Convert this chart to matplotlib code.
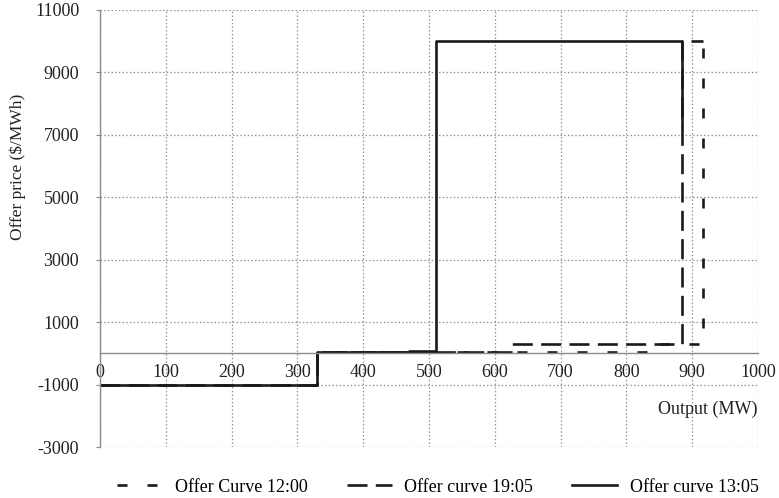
#!/usr/bin/env python3

import matplotlib.pyplot as plt
import numpy as np

plt.rcParams['font.family'] = ['Liberation Serif', 'DejaVu Serif']
plt.rcParams['lines.scale_dashes'] = False
plt.rcParams['axes.unicode_minus'] = False

# offer curves: output (MW) vs offer price ($/MWh), as step points
mw_1200 = [0, 330, 330, 510, 850, 850, 916, 916]
price_1200 = [-1000, -1000, 30, 30, 30, 300, 300, 10000]

mw_1905 = [0, 330, 330, 510, 626, 626, 885, 885, 916]
price_1905 = [-1000, -1000, 30, 30, 30, 300, 300, 10000, 10000]

mw_1305 = [0, 330, 330, 470, 470, 510, 510, 885, 885]
price_1305 = [-1000, -1000, 30, 30, 80, 80, 10000, 10000, 7300]

series_labels = ['Offer Curve 12:00', 'Offer curve 19:05', 'Offer curve 13:05']

x_ticks = np.arange(0, 1001, 100)
y_ticks = np.arange(-3000, 11001, 2000)

fig = plt.figure(figsize=(7.79, 4.98), dpi=100)
ax = fig.add_axes([100/779, 1-447/498, 658/779, 437/498])

lc = '#1a1a1a'
lw = 1.9
ax.plot(mw_1200, price_1200, color=lc, lw=lw, linestyle=(0, (7.2, 14.4)),
        label=series_labels[0], solid_capstyle='butt')
ax.plot(mw_1905, price_1905, color=lc, lw=lw, linestyle=(0, (14.4, 6.0)),
        label=series_labels[1], solid_capstyle='butt')
ax.plot(mw_1305, price_1305, color=lc, lw=lw, linestyle='-',
        label=series_labels[2])

ax.set_xlim(0, 1000)
ax.set_ylim(-3000, 11000)
ax.set_xticks(x_ticks)
ax.set_yticks(y_ticks)

# dotted grid all round, solid grey axis lines at x=0 and y=0
ax.grid(True, linestyle=':', color='#8c8c8c', linewidth=0.9)
ax.set_axisbelow(True)
for s in ['top', 'right']:
    ax.spines[s].set_visible(False)
ax.spines['bottom'].set_position(('data', 0))
ax.spines['bottom'].set_color('#8c8c8c')
ax.spines['left'].set_color('#8c8c8c')
ax.spines['bottom'].set_linewidth(1.0)
ax.spines['left'].set_linewidth(1.0)

ax.tick_params(axis='x', length=0, pad=8, labelsize=13, colors='#222222')
ax.tick_params(axis='y', length=3, color='#8c8c8c', pad=12, labelsize=13,
               labelcolor='#222222')

ax.text(1000, -1780, 'Output (MW)', ha='right', va='center', fontsize=13,
        color='#222222')
fig.text(18/779, 1-167/498, 'Offer price ($/MWh)', rotation=90, ha='center',
         va='center', fontsize=12.5, color='#222222')

fig.legend(loc='center', bbox_to_anchor=(438/779, 1-487/498), ncol=3,
           frameon=False, fontsize=13, handlelength=2.5, handletextpad=0.7,
           columnspacing=2.15)

plt.savefig('out.png', dpi=100)
